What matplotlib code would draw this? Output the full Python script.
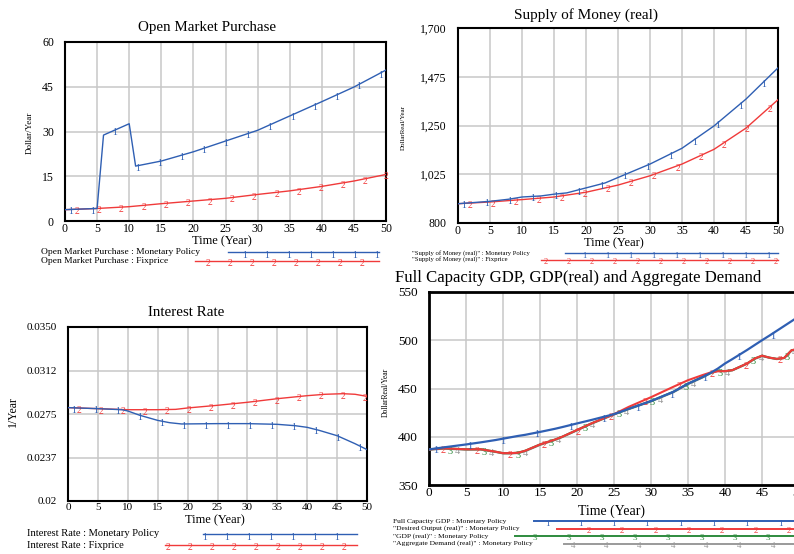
import matplotlib.pyplot as plt
import numpy as np
from matplotlib.lines import Line2D

plt.rcParams["font.family"] = ["Liberation Serif", "DejaVu Serif"]

W, H = 794, 554

c_blue = "#2f5fb3"
c_red = "#f03a3a"
c_green = "#2e8b3e"
c_gray = "#9a9a9a"
c_grid = "#c8c8c8"

# Open Market Purchase (Dollar/Year)
omp_t_mp = [0, 5, 6, 10, 11, 15, 20, 25, 30, 35, 40, 45, 50]
omp_mp = [3.8, 4.2, 28.8, 32.6, 18.4, 20.1, 23.2, 26.8, 30.4, 35.2, 40.0, 44.9, 50.6]
omp_t_fp = [0, 5, 10, 15, 20, 25, 30, 35, 40, 45, 50]
omp_fp = [3.8, 4.2, 4.8, 5.8, 6.7, 7.6, 8.9, 10.1, 11.6, 13.4, 15.6]

# Supply of Money (real)
sm_t_mp = [0, 5, 8, 10, 13, 15, 17, 20, 23, 25, 30, 35, 40, 45, 50]
sm_mp = [889, 900, 910, 920, 925, 933, 939, 962, 985, 1010, 1072, 1145, 1248, 1372, 1516]
sm_t_fp = [0, 5, 10, 15, 20, 25, 30, 35, 40, 45, 50]
sm_fp = [889, 897, 908, 920, 942, 975, 1018, 1072, 1140, 1238, 1369]

# Interest Rate (1/Year)
ir_t_mp = [0, 5, 9, 10, 12, 15, 17, 19, 25, 30, 35, 38, 40, 42, 45, 48, 50]
ir_mp = [0.02805, 0.02796, 0.02787, 0.02776, 0.02739, 0.02695, 0.02675, 0.02664,
         0.02667, 0.02667, 0.02661, 0.02649, 0.02635, 0.02609, 0.02563, 0.02494, 0.02443]
ir_t_fp = [0, 5, 10, 15, 18, 20, 25, 30, 35, 40, 43, 46, 48, 50]
ir_fp = [0.02805, 0.02796, 0.02787, 0.02787, 0.0279, 0.02802, 0.02825, 0.02851,
         0.02882, 0.02908, 0.0292, 0.02925, 0.0292, 0.02902]

# Full Capacity GDP, GDP(real) and Aggregate Demand
gdp_t = [0, 2, 5, 7, 9, 10, 11, 12, 13, 15, 17, 18, 20, 22, 25, 27, 30, 33, 35,
         37, 38, 39, 40, 41, 43, 44, 45, 46, 47, 48, 49, 50]
full_cap = [386.9, 389.0, 392.0, 394.2, 396.6, 398.0, 399.4, 400.8, 402.0, 405.0,
            408.2, 410.0, 413.8, 417.5, 423.4, 429.0, 437.0, 446.5, 455.0, 462.0,
            466.0, 470.5, 475.9, 480.5, 490.0, 495.0, 500.0, 504.8, 509.8, 514.8,
            519.8, 524.8]
desired = [386.9, 388.0, 387.0, 387.0, 384.5, 383.0, 383.0, 383.4, 385.5, 392.0,
           397.0, 400.0, 407.0, 414.0, 423.4, 431.0, 441.0, 451.7, 458.6, 464.0,
           466.5, 467.8, 468.0, 469.0, 476.0, 481.0, 484.0, 482.0, 480.7, 481.7,
           489.7, 491.0]
gdp_real = [386.9, 388.0, 387.0, 387.0, 384.5, 383.0, 383.0, 383.4, 385.5, 392.0,
            397.0, 400.0, 407.0, 414.0, 423.4, 429.0, 437.0, 446.5, 455.0, 462.0,
            466.0, 468.5, 468.0, 469.0, 476.0, 481.0, 484.0, 482.0, 480.7, 481.7,
            489.7, 491.0]
agg_demand = [386.5, 387.6, 386.6, 386.7, 384.2, 382.7, 382.6, 383.0, 385.0, 391.5,
              396.6, 399.6, 406.6, 413.6, 423.0, 428.6, 436.6, 446.0, 454.5, 461.5,
              465.6, 468.2, 467.8, 468.8, 475.6, 480.6, 483.6, 481.8, 480.4, 481.4,
              489.2, 490.7]


def fxy(x, y):
    return x / W, 1 - y / H


fig = plt.figure(figsize=(W / 100, H / 100), dpi=100)


def make_axes(left, top, right, bottom, ylim, yticks, ylabels, fs_tick, frame_lw):
    ax = fig.add_axes([left / W, 1 - bottom / H, (right - left) / W, (bottom - top) / H])
    ax.set_xlim(0, 50)
    ax.set_ylim(*ylim)
    ax.set_xticks(np.arange(0, 51, 5))
    ax.set_xticklabels([str(v) for v in range(0, 51, 5)], fontsize=fs_tick)
    ax.set_yticks(yticks)
    ax.set_yticklabels(ylabels, fontsize=fs_tick)
    ax.tick_params(length=0)
    ax.tick_params(axis="x", pad=1.5)
    ax.tick_params(axis="y", pad=8)
    ax.grid(True, color=c_grid, lw=1.1)
    ax.set_axisbelow(True)
    for sp in ax.spines.values():
        sp.set_linewidth(frame_lw)
        sp.set_color("black")
    return ax


def draw_series(ax, t, v, color, mark, start, step, lw, fs, z=3):
    ax.plot(t, v, color=color, lw=lw, zorder=z, solid_joinstyle="round")
    for tm in np.arange(start, 50.3, step):
        tm = min(tm, 50)
        ax.annotate(mark, (tm, np.interp(tm, t, v)), xytext=(0, 1.5),
                    textcoords="offset points", ha="center", va="top",
                    fontsize=fs, color=color, zorder=z, annotation_clip=False)


def legend_row(text, x_text, y, x0, x1, color, mark, m0, m1, mstep, fs_text, fs_mark, lw):
    fig.text(*fxy(x_text, y), text, fontsize=fs_text, ha="left", va="center")
    fig.add_artist(Line2D([x0 / W, x1 / W], [1 - y / H] * 2, color=color, lw=lw))
    for mx in np.arange(m0, m1 + 0.1, mstep):
        fig.text(mx / W, 1 - (y - 1.5) / H, mark, fontsize=fs_mark, color=color,
                 ha="center", va="top")


# Open Market Purchase
ax1 = make_axes(65, 42, 386, 221, (0, 60), [0, 15, 30, 45, 60],
                ["0", "15", "30", "45", "60"], 8.5, 1.5)
draw_series(ax1, omp_t_fp, omp_fp, c_red, "2", 1.9, 3.45, 1.0, 7)
draw_series(ax1, omp_t_mp, omp_mp, c_blue, "1", 0.9, 3.45, 1.0, 7, z=4)
fig.text(*fxy(207, 27), "Open Market Purchase", fontsize=10.8, ha="center", va="center")
fig.text(*fxy(222, 241), "Time (Year)", fontsize=9, ha="center", va="center")
fig.text(*fxy(30, 133), "Dollar/Year", fontsize=6.5, rotation=90, ha="center", va="center")
legend_row("Open Market Purchase : Monetary Policy", 41, 252, 228, 379, c_blue, "1",
           245, 377, 22, 6.8, 7, 1.0)
legend_row("Open Market Purchase : Fixprice", 41, 261, 195, 379, c_red, "2",
           208, 362, 22, 6.8, 7, 1.0)

# Supply of Money (real)
ax2 = make_axes(458, 28, 778, 223, (800, 1700), [800, 1025, 1250, 1475, 1700],
                ["800", "1,025", "1,250", "1,475", "1,700"], 8.5, 1.5)
draw_series(ax2, sm_t_fp, sm_fp, c_red, "2", 1.9, 3.6, 1.0, 7)
draw_series(ax2, sm_t_mp, sm_mp, c_blue, "1", 0.9, 3.6, 1.0, 7, z=4)
fig.text(*fxy(586, 15), "Supply of Money (real)", fontsize=11, ha="center", va="center")
fig.text(*fxy(614, 243), "Time (Year)", fontsize=9, ha="center", va="center")
fig.text(*fxy(403, 128), "DollarReal/Year", fontsize=5, rotation=90, ha="center", va="center")
legend_row("\"Supply of Money (real)\" : Monetary Policy", 412, 253, 565, 778, c_blue, "1",
           584, 770, 23, 4.8, 6, 1.0)
legend_row("\"Supply of Money (real)\" : Fixprice", 412, 259.5, 541, 778, c_red, "2",
           546, 777, 23, 4.8, 6, 1.0)

# Interest Rate
ir_ticks = [0.02, 0.02375, 0.0275, 0.03125, 0.035]
ax3 = make_axes(68, 327, 367, 501, (0.02, 0.035), ir_ticks,
                ["0.02", "0.0237", "0.0275", "0.0312", "0.0350"], 8, 1.5)
draw_series(ax3, ir_t_fp, ir_fp, c_red, "2", 1.9, 3.68, 1.0, 7)
draw_series(ax3, ir_t_mp, ir_mp, c_blue, "1", 0.9, 3.68, 1.0, 7, z=4)
fig.text(*fxy(186, 313), "Interest Rate", fontsize=10.8, ha="center", va="center")
fig.text(*fxy(215, 520), "Time (Year)", fontsize=9, ha="center", va="center")
fig.text(*fxy(13, 412), "1/Year", fontsize=8.5, rotation=90, ha="center", va="center")
legend_row("Interest Rate : Monetary Policy", 27, 534, 203, 357, c_blue, "1",
           205, 337, 22, 7.6, 7, 1.0)
legend_row("Interest Rate : Fixprice", 27, 545, 165, 357, c_red, "2",
           168, 344, 22, 7.6, 7, 1.0)

# Full Capacity GDP, GDP(real) and Aggregate Demand
ax4 = make_axes(429, 292, 799, 485, (350, 550), [350, 400, 450, 500, 550],
                ["350", "400", "450", "500", "550"], 9.5, 2.0)
draw_series(ax4, gdp_t, agg_demand, c_gray, "4", 3.9, 4.55, 1.5, 7.5, z=3)
draw_series(ax4, gdp_t, gdp_real, c_green, "3", 2.9, 4.55, 1.5, 7.5, z=4)
draw_series(ax4, gdp_t, desired, c_red, "2", 1.9, 4.55, 1.5, 7.5, z=5)
draw_series(ax4, gdp_t, full_cap, c_blue, "1", 0.9, 4.55, 1.6, 7.5, z=6)
fig.text(*fxy(578, 278), "Full Capacity GDP, GDP(real) and Aggregate Demand",
         fontsize=12.1, ha="center", va="center")
fig.text(*fxy(612, 511), "Time (Year)", fontsize=10, ha="center", va="center")
fig.text(*fxy(386, 392), "DollarReal/Year", fontsize=5.5, rotation=90, ha="center", va="center")
legend_row("Full Capacity GDP : Monetary Policy", 393, 521, 534, 800, c_blue, "1",
           547, 781, 33.3, 5.4, 6.5, 1.4)
legend_row("\"Desired Output (real)\" : Monetary Policy", 393, 528.5, 557, 800, c_red, "2",
           589, 790, 33.3, 5.4, 6.5, 1.4)
legend_row("\"GDP (real)\" : Monetary Policy", 393, 536, 515, 800, c_green, "3",
           535, 785, 33.3, 5.4, 6.5, 1.4)
legend_row("\"Aggregate Demand (real)\" : Monetary Policy", 393, 543.5, 564, 800, c_gray, "4",
           573, 780, 33.3, 5.4, 6.5, 1.4)

fig.savefig("out.png", dpi=100)
